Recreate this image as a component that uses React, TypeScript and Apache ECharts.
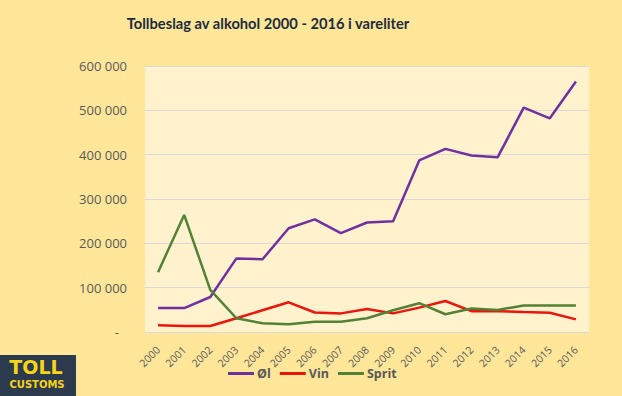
import React, { useEffect, useRef } from "react";
import * as echarts from "echarts";

const years = ["2000","2001","2002","2003","2004","2005","2006","2007","2008","2009","2010","2011","2012","2013","2014","2015","2016"];
const ol = [54000, 54000, 79000, 166000, 164000, 234000, 254000, 223000, 247000, 250000, 387000, 413000, 398000, 394000, 506000, 482000, 565000];
const vin = [15000, 13500, 13500, 31000, 49000, 67000, 44000, 42000, 52000, 42000, 55000, 70000, 47000, 47000, 45000, 43500, 28500];
const sprit = [135000, 264000, 95000, 31000, 19600, 17300, 23300, 23300, 31000, 49000, 65000, 40000, 53000, 49600, 60000, 60000, 60000];
const seriesNames = ["Øl", "Vin", "Sprit"];
const colors = ["#7030A0", "#E8160C", "#538135"];
const title = "Tollbeslag av alkohol 2000 - 2016 i vareliter";

export default function App() {
  const ref = useRef<HTMLDivElement>(null);
  useEffect(() => {
    document.body.style.margin = "0";
    const chart = echarts.init(ref.current!, null, { renderer: "svg" });
    const font = "'Open Sans', sans-serif";
    chart.setOption({
      animation: false,
      backgroundColor: "#FFE699",
      title: {
        text: title,
        left: 263,
        top: 10,
        textAlign: "center",
        textStyle: { fontFamily: "Lato, sans-serif", fontWeight: "bold", fontSize: 14.7, color: "#1E2B3C" },
      },
      grid: {
        left: 145, top: 66, width: 444, height: 266,
        show: true, backgroundColor: "#FFF2CC", borderWidth: 0,
      },
      legend: {
        left: 223, top: 362,
        icon: "rect", itemWidth: 26, itemHeight: 3, itemGap: 9,
        textStyle: { fontFamily: font, fontWeight: "bold", fontSize: 12.5, color: "#595959", padding: [0, 0, 0, -2] },
        data: seriesNames,
      },
      xAxis: {
        type: "category",
        data: years,
        boundaryGap: true,
        axisLine: { show: false },
        axisTick: { show: false },
        axisLabel: { rotate: 45, margin: 16, fontFamily: font, fontSize: 10.5, color: "#595959" },
      },
      yAxis: {
        type: "value",
        min: 0, max: 600000, interval: 100000,
        axisLine: { show: false },
        axisTick: { show: false },
        splitLine: { lineStyle: { color: "#D9D9D9", width: 1 } },
        axisLabel: {
          margin: 18,
          fontFamily: font, fontSize: 13, color: "#595959",
          formatter: (v: number) => v === 0 ? "{d|-}" : String(v / 1000) + " 000",
          rich: { d: { padding: [0, 8, 0, 0], fontFamily: font, fontSize: 13, color: "#595959" } },
        },
      },
      series: [ol, vin, sprit].map((d, i) => ({
        name: seriesNames[i],
        type: "line",
        data: d,
        symbol: "none",
        color: colors[i],
        lineStyle: { width: 2.5, color: colors[i] },
      })),
      graphic: [
        { type: "rect", shape: { x: 0, y: 355, width: 76, height: 41 }, style: { fill: "#2C3A4E" } },
        { type: "text", style: { text: "TOLL", x: 36, y: 357, align: "center", verticalAlign: "top", fill: "#F7D417", fontFamily: "'DejaVu Sans', sans-serif", fontWeight: "bold", fontSize: 19 } },
        { type: "text", style: { text: "CUSTOMS", x: 37, y: 379, align: "center", verticalAlign: "top", fill: "#F7D417", fontFamily: "'DejaVu Sans', sans-serif", fontWeight: "bold", fontSize: 10 } },
      ],
    });
    return () => chart.dispose();
  }, []);
  return <div ref={ref} style={{ width: 622, height: 396 }} />;
}
